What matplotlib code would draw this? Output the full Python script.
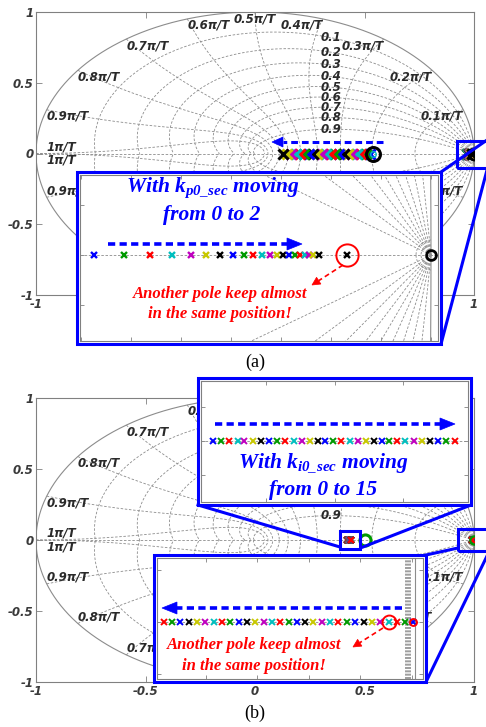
import numpy as np
import matplotlib.pyplot as plt
from matplotlib.lines import Line2D
from matplotlib.patches import Rectangle, Polygon

plt.rcParams['mathtext.fontset'] = 'custom'
plt.rcParams['mathtext.it'] = 'Liberation Serif:italic:bold'
plt.rcParams['mathtext.rm'] = 'Liberation Serif:italic:bold'
plt.rcParams['mathtext.bf'] = 'Liberation Serif:italic:bold'

W, H = 486, 727

# colour order used for successive gain steps
step_colors = ['#0000ff', '#009900', '#ff0000', '#00bfbf', '#bf00bf', '#c8c800', '#000000']

# (a) k_p0_sec from 0 to 2 in steps of 0.1
kp_fast_pole = [0.525, 0.505, 0.485, 0.465, 0.445, 0.425, 0.405, 0.385, 0.365, 0.345, 0.325,
                0.305, 0.285, 0.265, 0.245, 0.225, 0.205, 0.185, 0.165, 0.148, 0.130]
kp_fast_zero = 0.539
kp_slow_pole = [0.9663, 0.9693, 0.9719, 0.9741, 0.9760, 0.9775, 0.9789, 0.9802, 0.9813, 0.9822, 0.9831,
                0.9839, 0.9846, 0.9852, 0.9858, 0.9864, 0.9869, 0.9874, 0.9878, 0.9882, 0.9888]
kp_other_pole = 0.9916
kp_slow_zero = 1.0

# (b) k_i0_sec from 0 to 15 in steps of 0.5
ki_mid_pole = [0.4211, 0.4217, 0.4223, 0.4229, 0.4234, 0.4240, 0.4246, 0.4252, 0.4258, 0.4264, 0.4270,
               0.4276, 0.4282, 0.4288, 0.4293, 0.4299, 0.4305, 0.4311, 0.4317, 0.4323, 0.4329, 0.4335,
               0.4340, 0.4346, 0.4352, 0.4358, 0.4364, 0.4370, 0.4376, 0.4382, 0.4388]
ki_mid_zero = 0.502
ki_slow_pole = [1.00004, 0.99973, 0.99941, 0.99909, 0.99876, 0.99844, 0.99812, 0.99780, 0.99747, 0.99715,
                0.99683, 0.99651, 0.99618, 0.99586, 0.99554, 0.99522, 0.99489, 0.99457, 0.99425, 0.99393,
                0.99360, 0.99328, 0.99296, 0.99264, 0.99231, 0.99199, 0.99167, 0.99135, 0.99102, 0.99070,
                0.99040]
ki_slow_zero = 1.00004
ki_circled = 3

zeta_vals = [0.1, 0.2, 0.3, 0.4, 0.5, 0.6, 0.7, 0.8, 0.9]
wn_steps = [1, 2, 3, 4, 5, 6, 7, 8, 9, 10]   # natural frequency in units of pi/(10T)
axis_ticks = [-1, -0.5, 0, 0.5, 1]
axis_ticklabels = ['-1', '-0.5', '0', '0.5', '1']
axis_ticklabels_a = ['-1', '', '', '', '1']   # middle ones sit under the zoom window

# zoom windows, pixel boxes (left, top, right, bottom)
BOX_A = (77, 172, 441, 344)
BOX_B1 = (198, 378, 471, 505)
BOX_B2 = (154, 555, 426, 682)

GRID = dict(color='#8c8c8c', lw=0.6, dashes=(3, 2))
LAB = dict(family='DejaVu Sans', weight='bold', style='italic', size=8.5, color='#2a2a2a')

fig = plt.figure(figsize=(W / 100, H / 100), dpi=100)


def fx(px):
    return px / W


def fy(py):
    return 1 - py / H


def axes_px(x0, y0, x1, y1):
    return fig.add_axes([fx(x0), fy(y1), (x1 - x0) / W, (y1 - y0) / H])


def zgrid(ax, extra_wn=()):
    for z in zeta_vals:
        wd = np.sqrt(1 - z * z)
        w = np.concatenate([np.linspace(0, 0.05, 600), np.linspace(0.05, np.pi / wd, 1500)])
        c = np.exp(-z * w + 1j * w * wd)
        ax.plot(c.real, c.imag, **GRID)
        ax.plot(c.real, -c.imag, **GRID)
    zz = np.linspace(0, 1, 400)
    for wn in [k * np.pi / 10 for k in wn_steps] + list(extra_wn):
        c = np.exp(wn * (-zz + 1j * np.sqrt(1 - zz ** 2)))
        ax.plot(c.real, c.imag, **GRID)
        ax.plot(c.real, -c.imag, **GRID)
    t = np.linspace(0, 2 * np.pi, 1440)
    ax.plot(np.cos(t), np.sin(t), color='#8c8c8c', lw=0.8)
    ax.axhline(0, **GRID)


def hidden(ax, x, y, boxes):
    dx, dy = ax.transData.transform((x, y))
    px, py = dx, H - dy
    return any(b[0] <= px <= b[2] and b[1] <= py <= b[3] for b in boxes)


def zgrid_labels(ax, boxes):
    def put(x, y, s, **kw):
        if not hidden(ax, x, y, boxes):
            ax.text(x, y, s, **kw, **LAB)

    for z in zeta_vals:
        w = np.linspace(0.2, 2.5, 800)
        c = np.exp(-z * w + 1j * w * np.sqrt(1 - z * z))
        i = np.argmin(np.abs(c.real - 0.345))
        put(0.345, c.imag[i], f'{z:g}', ha='center', va='center')
    for k in wn_steps:
        th = k * np.pi / 10
        x, y = np.cos(th), np.sin(th)
        ha = 'right' if x > 0.05 else ('left' if x < -0.05 else 'center')
        txt = f'{k / 10:g}\u03c0/T'
        if k == 10:
            put(x + 0.05, 0.0, txt, ha='left', va='bottom')
            put(x + 0.05, 0.0, txt, ha='left', va='top')
        else:
            put(x, y, txt, ha=ha, va='top')
            put(x, -y, txt, ha=ha, va='bottom')


def style_main(ax, xlabels):
    ax.set_xlim(-1, 1)
    ax.set_ylim(-1, 1)
    ax.set_xticks(axis_ticks)
    ax.set_yticks(axis_ticks)
    ax.set_xticklabels(xlabels)
    ax.set_yticklabels(axis_ticklabels)
    ax.tick_params(direction='in', length=4, width=0.6, color='#808080', top=True, right=True,
                   pad=2, labelsize=8.5, labelcolor='#3a3a3a')
    for lbl in ax.get_xticklabels() + ax.get_yticklabels():
        lbl.set_fontweight('bold')
        lbl.set_fontstyle('italic')
        lbl.set_family('DejaVu Sans')
    for s in ax.spines.values():
        s.set_color('#808080')
        s.set_linewidth(0.8)


def style_inset(ax, xlim, ylim):
    ax.set_xlim(*xlim)
    ax.set_ylim(*ylim)
    ax.tick_params(direction='in', length=3, width=0.6, color='#808080', top=True, right=True,
                   labelbottom=False, labelleft=False)
    for s in ax.spines.values():
        s.set_color('#808080')
        s.set_linewidth(0.8)
    ax.set_zorder(1)


def inset_px(box, xlim, ylim):
    x0, y0, x1, y1 = box
    fig.add_artist(Rectangle((fx(x0), fy(y1)), (x1 - x0) / W, (y1 - y0) / H, transform=fig.transFigure,
                             fc='white', ec='#0000ff', lw=2.2, zorder=0.5))
    ax = axes_px(x0 + 3, y0 + 3, x1 - 3, y1 - 3)
    style_inset(ax, xlim, ylim)
    return ax


def px_line(xs, ys, **kw):
    fig.add_artist(Line2D([fx(v) for v in xs], [fy(v) for v in ys], transform=fig.transFigure,
                          zorder=3, **kw))


def px_arrow(x0, y0, x1, y1, color, lw, dashes, head_len, head_w):
    d = np.hypot(x1 - x0, y1 - y0)
    ux, uy = (x1 - x0) / d, (y1 - y0) / d
    xs, ys = x1 - ux * head_len, y1 - uy * head_len
    px_line([x0, xs], [y0, ys], color=color, lw=lw, dashes=dashes, solid_capstyle='butt')
    pts = [(x1, y1), (xs - uy * head_w, ys + ux * head_w), (xs + uy * head_w, ys - ux * head_w)]
    fig.add_artist(Polygon([(fx(a), fy(b)) for a, b in pts], closed=True, transform=fig.transFigure,
                           fc=color, ec=color, lw=0.5, zorder=3))


def px_text(x, y, s, color, size):
    fig.text(fx(x), fy(y), s, ha='center', va='center', color=color, size=size,
             family='Liberation Serif', weight='bold', style='italic', zorder=3)


def plot_steps(ax, xs, ms, mew, offset=0):
    for i, x in enumerate(xs):
        ax.plot(x, 0, 'x', color=step_colors[(i + offset) % 7], ms=ms, mew=mew, zorder=4)


# ---------------- (a) ----------------
ax_a = axes_px(36, 12, 474, 295)
style_main(ax_a, axis_ticklabels_a)
zgrid(ax_a)
zgrid_labels(ax_a, [BOX_A])
plot_steps(ax_a, kp_fast_pole, 7, 2.2)
plot_steps(ax_a, kp_slow_pole, 7, 2.2)
ax_a.plot(kp_other_pole, 0, 'x', color='k', ms=7, mew=2.2, zorder=4)
ax_a.plot(kp_fast_zero, 0, 'o', mfc='none', mec='k', ms=10, mew=2.2, zorder=5)
ax_a.plot(kp_fast_zero, 0, 'o', mfc='none', mec='#00bfbf', ms=4, mew=1, zorder=5)
ax_a.plot(kp_slow_zero, 0, 'o', mfc='none', mec='k', ms=8, mew=2, zorder=5)
ax_a.add_patch(Rectangle((0.922, -0.105), 0.14, 0.195, fill=False, ec='#0000ff', lw=2.2,
                         clip_on=False, zorder=6))

in_a = inset_px(BOX_A, (0.9649, 1.0007), (-0.0086, 0.0080))
zgrid(in_a, extra_wn=(0.0005, 0.001, 0.0015))
plot_steps(in_a, kp_slow_pole, 5, 1.7)
in_a.plot(kp_other_pole, 0, 'x', color='k', ms=5, mew=1.7, zorder=4)
in_a.plot(kp_other_pole, 0, 'o', mfc='none', mec='#ff0000', ms=16, mew=1.4, zorder=5)
in_a.plot(kp_slow_zero, 0, 'o', mfc='none', mec='k', ms=7, mew=2, zorder=5)

px_line([441, 487], [172, 140], color='#0000ff', lw=2.2)
px_line([441, 487], [344, 170], color='#0000ff', lw=2.2)
px_arrow(383, 142, 272, 142, '#0000ff', 2.2, (2.2, 1.3), 11, 5)
px_arrow(108, 244, 302, 244, '#0000ff', 2.6, (2.0, 1.2), 15, 6)
px_arrow(343, 265, 312, 285, '#ff0000', 1.2, (3, 2), 8, 4)
px_text(213, 188, r'With $k_{p0\_sec}$ moving', '#0000ff', 15.5)
px_text(212, 215, 'from 0 to 2', '#0000ff', 15.5)
px_text(220, 294, 'Another pole keep almost', '#ff0000', 12)
px_text(220, 314, 'in the same position!', '#ff0000', 12)
fig.text(fx(255), fy(362), '(a)', ha='center', va='center', size=13, family='Liberation Serif')

# ---------------- (b) ----------------
ax_b = axes_px(36, 398, 474, 682)
style_main(ax_b, axis_ticklabels)
zgrid(ax_b)
zgrid_labels(ax_b, [BOX_B1, BOX_B2])
plot_steps(ax_b, ki_mid_pole, 5, 1.6)
plot_steps(ax_b, ki_slow_pole, 5, 1.6)
ax_b.plot(ki_mid_zero, 0, 'o', mfc='none', mec='#009900', ms=8, mew=2.2, zorder=5)
ax_b.plot(ki_slow_zero, 0, 'o', mfc='none', mec='#009900', ms=6, mew=1.6, zorder=5)
ax_b.add_patch(Rectangle((0.388, -0.063), 0.091, 0.126, fill=False, ec='#0000ff', lw=2.2,
                         clip_on=False, zorder=6))
ax_b.add_patch(Rectangle((0.927, -0.08), 0.14, 0.16, fill=False, ec='#0000ff', lw=2.2,
                         clip_on=False, zorder=6))

in_b1 = inset_px(BOX_B1, (0.42022, 0.43978), (-0.00447, 0.0044))
in_b1.axhline(0, **GRID)
plot_steps(in_b1, ki_mid_pole, 4.5, 1.4)

in_b2 = inset_px(BOX_B2, (0.990116, 1.000426), (-0.00221, 0.00248))
in_b2.axhline(0, **GRID)
for xv in (0.99977, 0.99985, 0.99992):
    in_b2.axvline(xv, color='#8c8c8c', lw=1.2, dashes=(1.2, 0.8))
in_b2.axvline(1.0001, color='#8c8c8c', lw=0.8)
plot_steps(in_b2, ki_slow_pole, 4.5, 1.4)
in_b2.plot(ki_slow_zero, 0, 'o', mfc='none', mec='#ff0000', ms=5, mew=1.4, zorder=5)
in_b2.plot(ki_slow_pole[ki_circled], 0, 'o', mfc='none', mec='#ff0000', ms=10, mew=1.4, zorder=5)

px_line([198, 340], [505, 547], color='#0000ff', lw=2.2)
px_line([471, 363], [505, 547], color='#0000ff', lw=2.2)
px_line([426, 458], [555, 548], color='#0000ff', lw=2.2)
px_line([426, 487], [682, 556], color='#0000ff', lw=2.2)
px_arrow(215, 424, 455, 424, '#0000ff', 2.6, (2.0, 1.2), 15, 6)
px_arrow(402, 608, 162, 608, '#0000ff', 2.6, (2.0, 1.2), 15, 6)
px_arrow(383, 628, 353, 647, '#ff0000', 1.2, (3, 2), 8, 4)
px_text(323, 463, r'With $k_{i0\_sec}$ moving', '#0000ff', 15.5)
px_text(323, 490, 'from 0 to 15', '#0000ff', 15.5)
px_text(254, 645, 'Another pole keep almost', '#ff0000', 12)
px_text(254, 666, 'in the same position!', '#ff0000', 12)
fig.text(fx(255), fy(713), '(b)', ha='center', va='center', size=13, family='Liberation Serif')

fig.savefig('out.png', dpi=100)
